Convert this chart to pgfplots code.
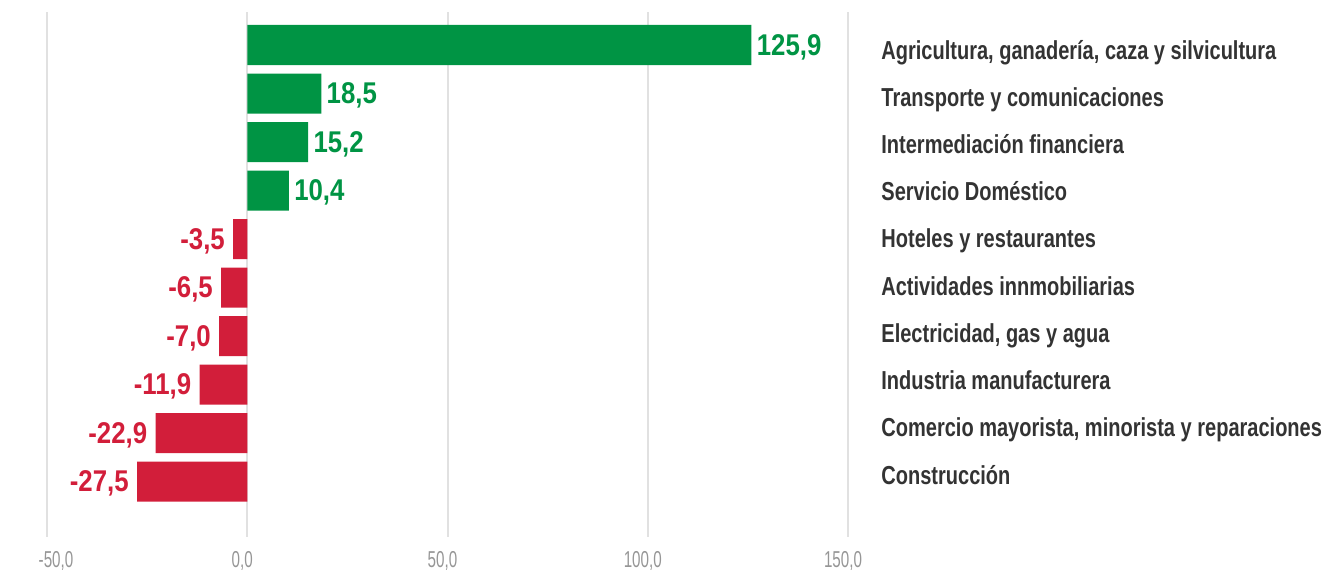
\documentclass[border=0pt]{standalone}
\usepackage{pgfplots}
\pgfplotsset{compat=1.18}
\usepackage{fontspec}
\setmainfont{Liberation Sans}
\newfontfamily\catfont[FakeStretch=0.77]{Liberation Sans}
\newfontfamily\valfont[FakeStretch=0.86]{Liberation Sans}
\newfontfamily\tickfont[FakeStretch=0.66]{Liberation Sans}
\definecolor{cgreen}{RGB}{0,148,68}
\definecolor{cred}{RGB}{210,30,58}
\definecolor{ctext}{RGB}{51,51,51}
\definecolor{ctick}{RGB}{150,150,150}
\definecolor{cgrid}{RGB}{225,225,225}
\begin{document}
\begin{tikzpicture}
\path[use as bounding box] (-23.5pt,-19pt) rectangle (648.5pt,268.5pt);
\begin{axis}[
  at={(0,0)}, anchor=south west,
  scale only axis, width=400.5pt, height=262.5pt,
  xmin=-50, xmax=150, ymin=-0.68, ymax=10.14, y dir=reverse,
  xbar, bar width=0.825, bar shift=0pt,
  axis line style={draw=none}, major tick length=0pt,
  xtick={-50,0,50,100,150},
  xticklabels={{\hspace{14pt}-50,0},{0,0},{50,0},{100,0},{150,0}},
  xticklabel style={font=\tickfont\fontsize{11.5}{11.5}\selectfont, text=ctick, inner sep=0pt, yshift=-7pt, xshift=-2.5pt},
  xmajorgrids, grid style={cgrid, line width=1pt},
  ytick={0,0.973,1.947,2.920,3.893,4.866,5.839,6.812,7.786,8.759},
  yticklabels={{Agricultura, ganadería, caza y silvicultura},{Transporte y comunicaciones},{Intermediación financiera},{Servicio Doméstico},{Hoteles y restaurantes},{Actividades innmobiliarias},{Electricidad, gas y agua},{Industria manufacturera},{Comercio mayorista, minorista y reparaciones},{Construcción}},
  yticklabel pos=right,
  yticklabel style={font=\catfont\bfseries\fontsize{13}{13}\selectfont, text=ctext, anchor=base west, inner sep=0pt, xshift=16.5pt, yshift=-7pt},
  clip=false,
  point meta=explicit symbolic,
  nodes near coords,
]
\addplot[fill=cgreen, draw=none,
  every node near coord/.append style={font=\valfont\bfseries\fontsize{15}{15}\selectfont, text=cgreen, anchor=base west, inner sep=0pt, xshift=2.5pt, yshift=-5pt}]
  coordinates {(125.9,0) [125,9] (18.5,1) [18,5] (15.2,2) [15,2] (10.4,3) [10,4]};
\addplot[fill=cred, draw=none,
  every node near coord/.append style={font=\valfont\bfseries\fontsize{15}{15}\selectfont, text=cred, anchor=base east, inner sep=0pt, xshift=-4pt, yshift=-5pt}]
  coordinates {(-3.5,4) [-3,5] (-6.5,5) [-6,5] (-7.0,6) [-7,0] (-11.9,7) [-11,9] (-22.9,8) [-22,9] (-27.5,9) [-27,5]};
\end{axis}
\end{tikzpicture}
\end{document}
